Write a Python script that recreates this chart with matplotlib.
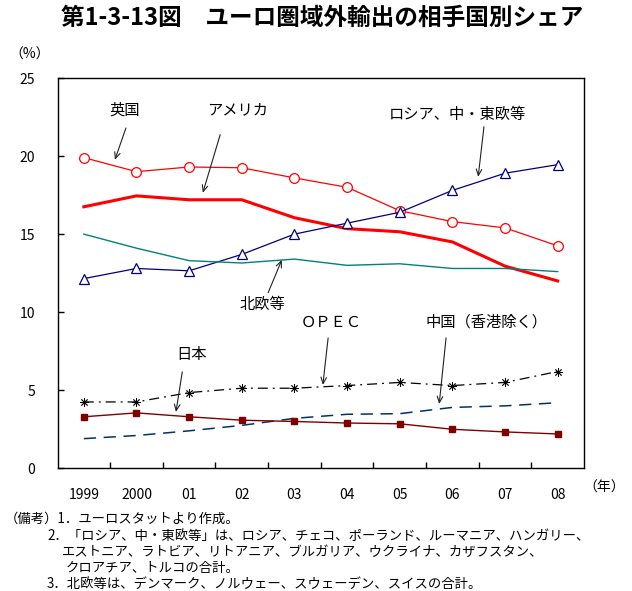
import numpy as np
import matplotlib
matplotlib.use("Agg")
import matplotlib.pyplot as plt

plt.rcParams["font.family"] = ["Noto Sans CJK JP", "DejaVu Sans"]

# ─── データ ───────────────────────────────────────────────────────────────
years = ["1999", "2000", "01", "02", "03", "04", "05", "06", "07", "08"]
uk     = [19.9, 19.0, 19.3, 19.25, 18.6, 18.0, 16.5, 15.8, 15.4, 14.25]
usa    = [16.75, 17.45, 17.2, 17.2, 16.05, 15.35, 15.15, 14.5, 12.95, 12.0]
russia = [12.15, 12.8, 12.65, 13.7, 15.0, 15.7, 16.4, 17.8, 18.9, 19.45]
nordic = [15.0, 14.1, 13.3, 13.15, 13.4, 13.0, 13.1, 12.8, 12.8, 12.6]
opec   = [4.25, 4.25, 4.85, 5.13, 5.13, 5.3, 5.5, 5.3, 5.5, 6.2]
china  = [1.9, 2.1, 2.4, 2.75, 3.2, 3.46, 3.5, 3.9, 4.0, 4.2]
japan  = [3.3, 3.55, 3.3, 3.08, 3.0, 2.9, 2.85, 2.5, 2.33, 2.2]

notes = [
    "（備考）1．ユーロスタットより作成。",
    "2．「ロシア、中・東欧等」は、ロシア、チェコ、ポーランド、ルーマニア、ハンガリー、",
    "エストニア、ラトビア、リトアニア、ブルガリア、ウクライナ、カザフスタン、",
    "クロアチア、トルコの合計。",
    "3．北欧等は、デンマーク、ノルウェー、スウェーデン、スイスの合計。",
]

# ─── 描画 ─────────────────────────────────────────────────────────────────
fig = plt.figure(figsize=(6.32, 5.91), dpi=100)
ax = fig.add_axes([57.5 / 632, 1 - 468.3 / 591, 526.5 / 632, 390.3 / 591])

x = np.arange(len(years))

ax.plot(x, uk, color="#ff0000", lw=0.9, marker="o", ms=7,
        mfc="white", mec="#ff0000", mew=0.9)
ax.plot(x, usa, color="#ff0000", lw=2.2)
ax.plot(x, russia, color="#000080", lw=0.9, marker="^", ms=7,
        mfc="white", mec="#000080", mew=0.9)
ax.plot(x, nordic, color="#008080", lw=1.0)
ax.plot(x, opec, color="black", lw=0.9, ls=(0, (8, 4, 1.5, 4)),
        marker=(8, 2, 0), ms=6, mew=0.6)
ax.plot(x, china, color="#003366", lw=1.1, ls=(0, (8, 5)))
ax.plot(x, japan, color="#800000", lw=1.0, marker="s", ms=4.5,
        mfc="#800000", mec="#800000")

ax.set_xlim(-0.5, len(years) - 0.5)
ax.set_ylim(0, 25)
ax.set_yticks(range(0, 26, 5))
ax.set_xticks(x)
ax.set_xticklabels(years)
ax.set_xticks(np.arange(0.5, len(years) - 0.5, 1), minor=True)
ax.tick_params(axis="x", which="major", length=0, pad=14, labelsize=10)
ax.tick_params(axis="x", which="minor", direction="in", length=4, width=1)
ax.tick_params(axis="y", direction="in", length=4, width=1, pad=16, labelsize=10)
for s in ax.spines.values():
    s.set_linewidth(1.0)

# 系列ラベルと矢印
labels = [
    ("英国",            (0.78, 22.95), (0.80, 21.8),  (0.59, 19.76)),
    ("アメリカ",        (2.93, 22.95), (2.59, 21.37), (2.26, 17.65)),
    ("ロシア、中・東欧等", (7.09, 22.65), (7.60, 21.88), (7.49, 18.67)),
    ("北欧等",          (3.39, 10.47), (3.50, 11.24), (3.76, 13.35)),
    ("ＯＰＥＣ",        (4.69, 9.38),  (4.64, 8.35),  (4.54, 5.34)),
    ("中国（香港除く）", (7.64, 9.38),  (6.88, 8.35),  (6.75, 4.12)),
    ("日本",            (2.04, 7.27),  (1.87, 6.18),  (1.75, 3.61)),
]
for txt, tpos, tail, head in labels:
    ax.text(*tpos, txt, ha="center", va="center", fontsize=11)
    ax.annotate("", xy=head, xytext=tail,
                arrowprops=dict(arrowstyle="->,head_length=0.45,head_width=0.2",
                                color="#222222", lw=0.8, shrinkA=0, shrinkB=0))

fig.text(322 / 632, 1 - 18 / 591, "第1-3-13図　ユーロ圏域外輸出の相手国別シェア",
         ha="center", va="center", fontsize=17, fontweight="bold")
fig.text(30 / 632, 1 - 55 / 591, "（%）", ha="center", va="center", fontsize=10)
fig.text(604 / 632, 1 - 488 / 591, "（年）", ha="center", va="center", fontsize=10)

note_x = [5, 47, 62, 66, 47]
note_y = [519, 536, 552, 568, 584]
for t, nx, ny in zip(notes, note_x, note_y):
    fig.text(nx / 632, 1 - ny / 591, t, ha="left", va="center", fontsize=9.6)

fig.savefig("out.png", dpi=100)
